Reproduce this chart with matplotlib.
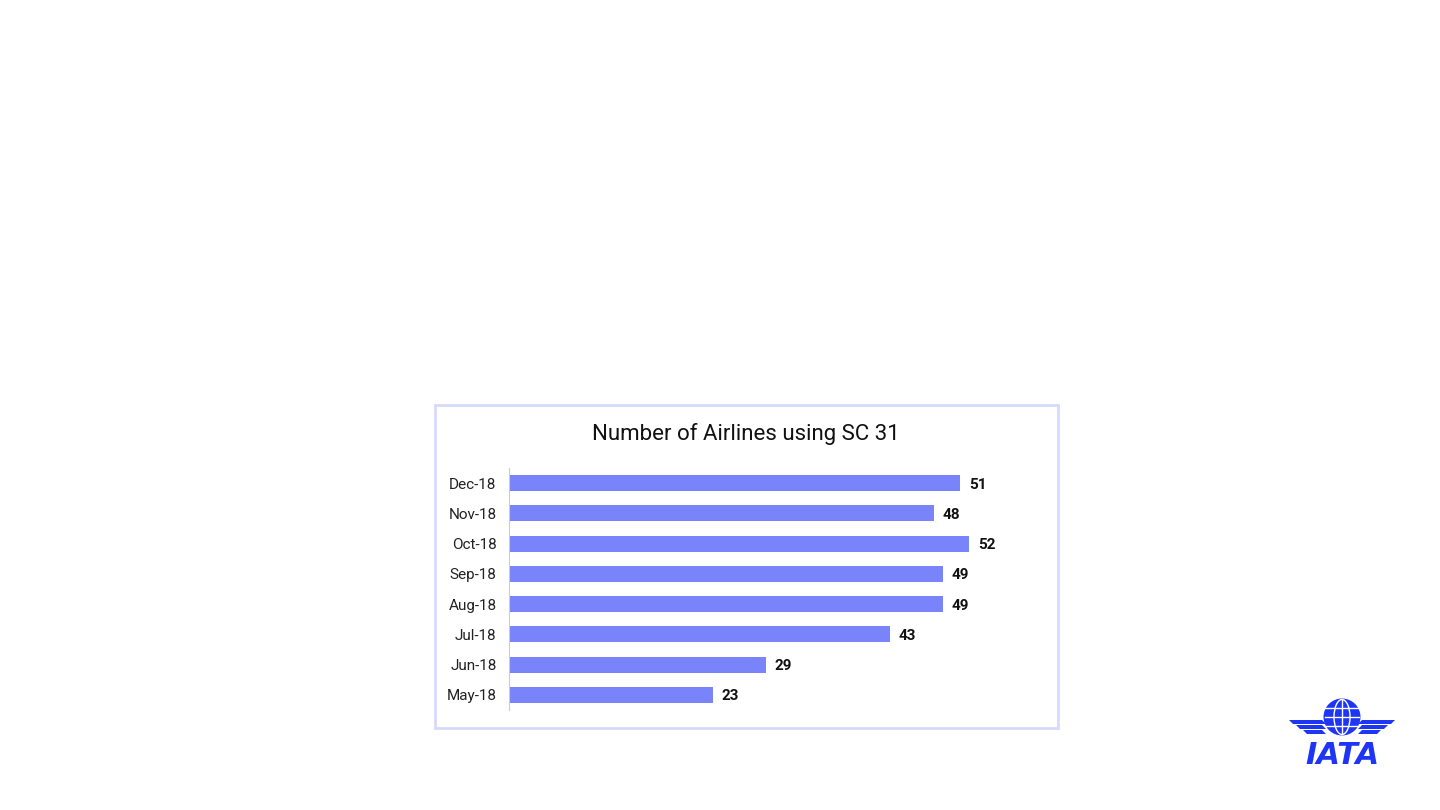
import matplotlib
matplotlib.use('Agg')
import matplotlib.pyplot as plt
from matplotlib.patches import Rectangle, Circle, Polygon, Ellipse

# ─── Data ────────────────────────────────────────────────────────────────────
months = ['May-18', 'Jun-18', 'Jul-18', 'Aug-18', 'Sep-18', 'Oct-18', 'Nov-18', 'Dec-18']
airlines = [23, 29, 43, 49, 49, 52, 48, 51]

BAR_COLOR = '#7A84FA'
FRAME_COLOR = '#D6D9FB'
IATA_BLUE = '#1F35F5'

plt.rcParams['font.family'] = ['Roboto', 'DejaVu Sans']

fig = plt.figure(figsize=(14.4, 8.1), dpi=100)
fig.patch.set_facecolor('white')

# chart frame
fig.patches.append(Rectangle((435 / 1440, 1 - 728 / 810), 623 / 1440, 323 / 810,
                             transform=fig.transFigure, fill=False,
                             edgecolor=FRAME_COLOR, linewidth=2))

fig.text(746 / 1440, 1 - 434 / 810, 'Number of Airlines using SC 31',
         ha='center', va='center', fontsize=16, color='#111111')

ax = fig.add_axes([509 / 1440, 1 - 710 / 810, 531 / 1440, 242 / 810])
ypos = list(range(len(months)))
ax.barh(ypos, airlines, height=0.53, color=BAR_COLOR)
ax.set_xlim(0, 60)
ax.set_ylim(-0.5, len(months) - 0.5)
ax.set_yticks(ypos)
ax.set_yticklabels(months, fontsize=11, color='#222222')
ax.set_xticks([])
ax.tick_params(axis='y', length=0, pad=9)
for sp in ['top', 'right', 'bottom']:
    ax.spines[sp].set_visible(False)
ax.spines['left'].set_color('#CCCCCC')
ax.spines['left'].set_linewidth(0.8)

for y, v in zip(ypos, airlines):
    ax.text(v + 1.0, y - 0.05, str(v), va='center', ha='left',
            fontsize=11, fontweight='bold', color='#111111')

# ─── IATA logo (approximate) ─────────────────────────────────────────────────
lax = fig.add_axes([1280 / 1440, 1 - 780 / 810, 130 / 1440, 90 / 810])
lax.set_xlim(0, 130)
lax.set_ylim(90, 0)
lax.axis('off')
# globe
lax.add_patch(Ellipse((62, 27), 37, 37, facecolor=IATA_BLUE, edgecolor='none'))
lax.add_patch(Ellipse((62, 27), 16, 35, facecolor='none', edgecolor='white', linewidth=1))
lax.plot([62, 62], [10, 44], color='white', lw=1)
for yy in [18, 27, 36]:
    lax.plot([45, 79], [yy, yy], color='white', lw=1)
# wings
for k in range(3):
    off = k * 5
    lax.add_patch(Polygon([[9 + off * 1.4, 30 + off], [42, 30 + off], [46, 34 + off],
                           [13 + off * 1.4, 34 + off]], closed=True,
                          facecolor=IATA_BLUE, edgecolor='none'))
    lax.add_patch(Polygon([[115 - off * 1.4, 30 + off], [82, 30 + off], [78, 34 + off],
                           [111 - off * 1.4, 34 + off]], closed=True,
                          facecolor=IATA_BLUE, edgecolor='none'))
lax.text(62, 66, 'IATA', ha='center', va='center', fontsize=22, fontweight='bold',
         fontstyle='italic', color=IATA_BLUE, family=['DejaVu Sans'])

plt.savefig('out.png', dpi=100)
print('Saved out.png')
